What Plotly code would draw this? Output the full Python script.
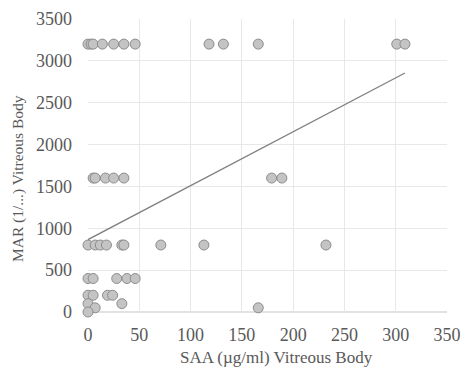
import plotly.graph_objects as go

# SAA (µg/ml) vs MAR (1/...) in vitreous body
saa = [0, 3, 5, 14, 25, 35, 46, 118, 132, 166, 301, 309,
       5, 7, 17, 25, 35, 179, 189,
       0, 7, 12, 18, 33, 35, 71, 113, 232,
       0, 5, 28, 38, 46,
       0, 5, 19, 24,
       0, 33,
       7, 166,
       0]
mar = [3200] * 12 + [1600] * 7 + [800] * 9 + [400] * 5 + [200] * 4 + [100] * 2 + [50] * 2 + [0]

# linear trendline
trend_x = [0, 309]
trend_y = [865, 2855]

x_ticks = [0, 50, 100, 150, 200, 250, 300, 350]
y_ticks = [0, 500, 1000, 1500, 2000, 2500, 3000, 3500]

x_title = "SAA (µg/ml) Vitreous Body"
y_title = "MAR (1/...) Vitreous Body"

font_family = "Liberation Serif, Times New Roman, serif"
tick_color = "#595959"
grid_color = "#e8e8e8"

fig = go.Figure()
fig.add_trace(go.Scatter(
    x=trend_x, y=trend_y, mode="lines",
    line=dict(color="#808080", width=1.3),
    hoverinfo="skip", showlegend=False, cliponaxis=False))
fig.add_trace(go.Scatter(
    x=saa, y=mar, mode="markers",
    marker=dict(size=10, color="#c4c4c4", line=dict(color="#8c8c8c", width=1)),
    showlegend=False, cliponaxis=False))

fig.update_layout(
    width=462, height=372,
    margin=dict(l=88, r=15, t=19, b=60),
    paper_bgcolor="white", plot_bgcolor="white",
    font=dict(family=font_family, size=16, color=tick_color),
    xaxis=dict(
        range=[0, 350], tickvals=x_ticks, showgrid=True, gridcolor=grid_color,
        gridwidth=1, zeroline=False, showline=False, ticks="", automargin=False,
        tickfont=dict(size=18, color=tick_color), ticklabelstandoff=10,
    ),
    yaxis=dict(
        range=[0, 3500], tickvals=y_ticks, showgrid=True, gridcolor=grid_color,
        gridwidth=1, zeroline=False, showline=False, ticks="", automargin=False,
        tickfont=dict(size=18, color=tick_color), ticklabelstandoff=15,
    ),
)
fig.add_annotation(text=x_title, xref="paper", yref="paper", x=0.526, y=-0.154,
                   xanchor="center", yanchor="middle", showarrow=False,
                   font=dict(size=17, color=tick_color))
fig.add_annotation(text=y_title, xref="paper", yref="paper", x=-0.195, y=0.457,
                   xanchor="center", yanchor="middle", showarrow=False, textangle=-90,
                   font=dict(size=15.5, color=tick_color))
fig.add_shape(type="line", xref="paper", yref="paper", x0=0, x1=1, y0=0, y1=0,
              line=dict(color="#d9d9d9", width=1.5), layer="below")

fig.write_html("out.html", config={"displayModeBar": False},
               post_script="document.body.style.margin='0';")
